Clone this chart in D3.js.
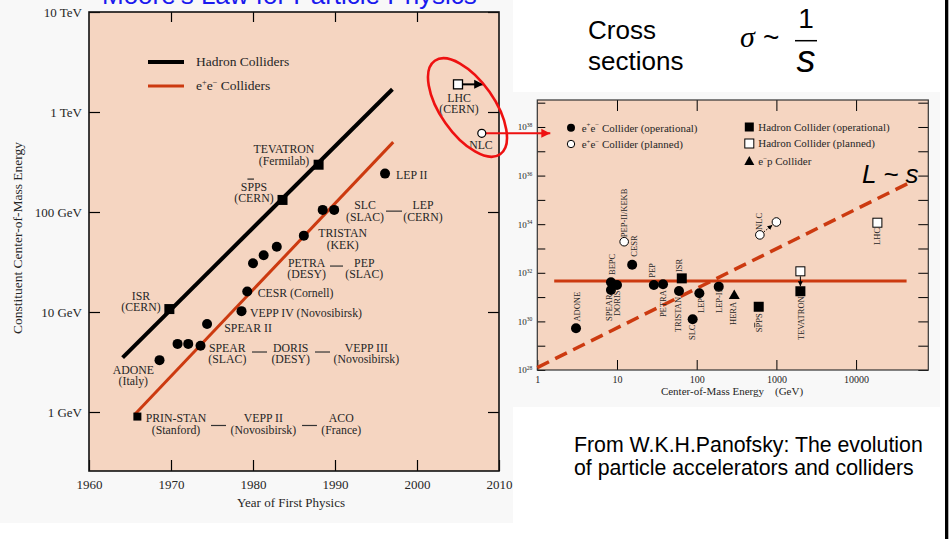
<!DOCTYPE html>
<html><head><meta charset="utf-8">
<script src="https://cdn.jsdelivr.net/npm/d3@7"></script>
<style>body{margin:0;background:#fff}svg{display:block}</style>
</head><body>
<svg id="c" width="952" height="539"></svg>
<script>
// ================= DATA : left panel (Livingston plot) =================
const leftYearTicks = [1960, 1970, 1980, 1990, 2000, 2010];
const leftEnergyTicks = [1, 10, 100, 1000, 10000];           // GeV
const leftEnergyTickLabels = ["1 GeV", "10 GeV", "100 GeV", "1 TeV", "10 TeV"];

// e+e- colliders (operational) – filled circles
const eeYears  = [1968.6, 1970.8, 1972.1, 1973.6, 1974.4, 1978.6, 1979.3, 1980.0, 1981.3, 1982.9, 1986.2, 1988.5, 1989.9, 1996.1];
const eeEnergy = [3.3, 4.8, 4.8, 4.6, 7.6, 10.2, 16, 30.7, 37, 45, 58, 105, 105, 242];
// earliest e+e- (PRIN-STAN) – small filled square
const eeFirstYears  = [1965.9];
const eeFirstEnergy = [0.9];
// hadron colliders (operational) – filled squares: ISR, SppS, TEVATRON
const hadYears  = [1969.8, 1983.6, 1988.0];
const hadEnergy = [10.7, 132, 297];
// planned: LHC (open square), NLC (open circle)
const lhcYear = 2005.0, lhcEnergy = 1890, lhcArrowToYear = 2008.07;
const nlcYear = 2007.9, nlcEnergy = 612;
// trend lines
const hadFitYears = [1964.1, 1997.0], hadFitEnergy = [3.5, 1690];
const eeFitYears  = [1965.6, 1997.1], eeFitEnergy  = [0.95, 500];

// annotations (anchored in data space)
const leftLabelText = [
  ["TEVATRON","(Fermilab)"], ["SPPS","(CERN)"], ["LEP II"], ["SLC","(SLAC)"], ["LEP","(CERN)"],
  ["TRISTAN","(KEK)"], ["PETRA","(DESY)"], ["PEP","(SLAC)"], ["CESR (Cornell)"], ["ISR","(CERN)"],
  ["VEPP IV (Novosibirsk)"], ["SPEAR II"], ["SPEAR","(SLAC)"], ["DORIS","(DESY)"], ["VEPP III","(Novosibirsk)"],
  ["ADONE","(Italy)"], ["PRIN-STAN","(Stanford)"], ["VEPP II","(Novosibirsk)"], ["ACO","(France)"],
  ["LHC","(CERN)"], ["NLC"]
];
const leftLabelYear = [1983.78, 1980.12, 1997.44, 1993.66, 2000.73, 1990.94, 1986.55, 1993.57, 1980.57, 1966.34,
  1979.63, 1976.5, 1976.87, 1984.6, 1993.82, 1965.4, 1970.61, 1981.26, 1990.77, 2005.12, 2007.8];
const leftLabelEnergy = [389, 164, 214, 107, 107, 55.6, 28.4, 28.4, 14.2, 13.2,
  8.98, 6.38, 4.01, 4.01, 4.01, 2.40, 0.789, 0.789, 0.789, 1268, 427];
const leftLabelAnchor = ["middle","middle","start","middle","middle","middle","middle","middle","start","middle",
  "start","start","middle","middle","middle","middle","middle","middle","middle","middle","middle"];
// connecting dashes between grouped labels
const dashFromYear = [1996.22, 1989.39, 1979.88, 1987.56, 1974.88, 1985.98];
const dashToYear   = [1998.17, 1990.98, 1981.71, 1989.39, 1976.71, 1987.80];
const dashEnergy   = [102, 28.8, 3.98, 3.98, 0.733, 0.733];

const leftLegendText = ["Hadron Colliders", "e+e- Colliders"];

// ================= DATA : right panel (luminosity) =================
const rightEnergyTicks = [1, 10, 100, 1000, 10000];
const rightLumTicks = [1e28,1e29,1e30,1e31,1e32,1e33,1e34,1e35,1e36,1e37,1e38,1e39];

const eeOpE = [3.06, 8.4, 8.4, 10, 15.5, 29, 37.8, 60, 89, 108, 189];
const eeOpL = [5.25e29, 1.95e31, 4.07e31, 3.16e31, 2.14e32, 3.16e31, 3.39e31, 1.78e31, 1.23e30, 1.45e31, 2.69e31];
const eePlE = [12.3, 620, 1000];
const eePlL = [1.9e33, 3.63e33, 1.23e34];
const hadOpE = [65, 600, 2000];
const hadOpL = [5.9e31, 4.0e30, 1.74e31];
const hadPlE = [2000, 18500];
const hadPlL = [1.15e32, 1.15e34];
const epE = [296];
const epL = [1.15e31];
const flatLineE = [1.63, 43000], flatLineL = [4.6e31, 4.6e31];
const lsLineE = [1, 45000], lsLineL = [1.26e28, 4.8e35];

const rightLabelText = ["ADONE","BEPC","SPEAR","DORIS","PEP-II/KEKB","CESR","PEP","PETRA","TRISTAN","ISR",
  "SLC","LEP","LEP-II","HERA","SPPS","NLC","TEVATRON","LHC"];
const rightLabelE = [3.12, 8.6, 7.94, 10.0, 12.2, 16.3, 27.2, 37.4, 58.8, 60.5, 88, 112, 189, 288, 610, 605, 2035, 18450];
const rightLabelL = [9.8e29, 8.1e31, 1.05e30, 1.66e30, 2.9e33, 4.6e32, 6.2e31, 1.5e30, 3.6e29, 1.07e32,
  1.7e29, 2.2e30, 2.2e30, 7.1e29, 3.6e29, 5.8e33, 1.7e29, 1.4e33];

const rightLegendText = ["e+e- Collider (operational)", "e+e- Collider (planned)",
  "Hadron Collider (operational)", "Hadron Collider (planned)", "e-p Collider"];
const rightLegendSymbol = ["circle", "circleOpen", "square", "squareOpen", "triangle"];

// ================= STYLE =================
const SERIF = "'Liberation Serif','Times New Roman',serif";
const SANS = "'Liberation Sans',Arial,Helvetica,sans-serif";
const PEACH = "#f5d5c1";
const ORANGE = "#cc3a10";
const RED = "#ee1111";
const TXT = "#262626";

const svg = d3.select("#c");

// rich text helper: e+e-, e-p, SPPS (overlined P)
function parts(str) {
  if (str.startsWith("e+e-")) return [["e"],["+","sup"],["e"],["\u2212","sup"],[str.slice(4)]];
  if (str.startsWith("e-p")) return [["e"],["\u2212","sup"],[str.slice(2)]];
  if (str === "SPPS") return [["S"],["P","bar"],["PS"]];
  return [[str]];
}
function rich(sel, ps, fs) {
  let up = false;
  ps.forEach(([t, m]) => {
    const ts = sel.append("tspan").text(t);
    if (m === "sup") {
      ts.attr("font-size", fs * 0.62);
      if (!up) { ts.attr("dy", -fs * 0.38); up = true; }
    } else {
      if (up) { ts.attr("dy", fs * 0.38); up = false; }
      if (m === "bar") ts.style("text-decoration", "overline");
    }
  });
}

// ---------- page backgrounds ----------
svg.append("rect").attr("x",0).attr("y",0).attr("width",513).attr("height",523).attr("fill","#f8f8f8");
svg.append("rect").attr("x",503).attr("y",92).attr("width",437).attr("height",315).attr("fill","#f8f8f8");

// blue page title (cut off at top)
svg.append("text").attr("x",102).attr("y",4).attr("font-family",SANS).attr("font-size",26)
  .attr("fill","#1a1aee").text("Moore's Law for Particle Physics");

// ================= LEFT PANEL =================
const LP = {x0: 89, x1: 499, y0: 12, y1: 471};
const xL = d3.scaleLinear().domain([1960, 2010]).range([LP.x0, LP.x1]);
const yL = d3.scaleLog().domain([Math.pow(10, -0.59), 1e4]).range([LP.y1, LP.y0]);

svg.append("rect").attr("x",LP.x0).attr("y",LP.y0).attr("width",LP.x1-LP.x0).attr("height",LP.y1-LP.y0)
  .attr("fill",PEACH);

const gL = svg.append("g");
function styleAxis(g, fs) {
  g.select(".domain").remove();
  g.selectAll(".tick line").attr("stroke","#000").attr("stroke-width",1.2);
  g.selectAll("text").attr("font-family",SERIF).attr("font-size",fs).attr("fill",TXT);
}
gL.append("g").attr("transform",`translate(${LP.x0},0)`)
  .call(d3.axisLeft(yL).tickValues(leftEnergyTicks).tickFormat((d,i)=>leftEnergyTickLabels[i]).tickSize(-11).tickPadding(7))
  .call(g=>styleAxis(g,13));
gL.append("g").attr("transform",`translate(${LP.x1},0)`)
  .call(d3.axisRight(yL).tickValues(leftEnergyTicks).tickFormat("").tickSize(-11)).call(g=>styleAxis(g,13));
gL.append("g").attr("transform",`translate(0,${LP.y0})`)
  .call(d3.axisTop(xL).tickValues(leftYearTicks.slice(1,-1)).tickFormat("").tickSize(-10)).call(g=>styleAxis(g,13));
gL.append("g").attr("transform",`translate(0,${LP.y1})`)
  .call(d3.axisBottom(xL).tickValues(leftYearTicks).tickFormat(d3.format("d")).tickSize(-11).tickPadding(9))
  .call(g=>styleAxis(g,13));

svg.append("rect").attr("x",LP.x0).attr("y",LP.y0).attr("width",LP.x1-LP.x0).attr("height",LP.y1-LP.y0)
  .attr("fill","none").attr("stroke","#111").attr("stroke-width",1.6);

// axis titles
svg.append("text").attr("transform",`translate(22,238) rotate(-90)`).attr("text-anchor","middle")
  .attr("font-family",SERIF).attr("font-size",13.5).attr("fill",TXT).text("Constituent Center-of-Mass Energy");
svg.append("text").attr("x",(LP.x0+LP.x1)/2 - 3).attr("y",507).attr("text-anchor","middle")
  .attr("font-family",SERIF).attr("font-size",13).attr("fill",TXT).text("Year of First Physics");

// trend lines
const lineL = d3.line().x(d=>xL(d[0])).y(d=>yL(d[1]));
svg.append("path").attr("d",lineL(d3.zip(hadFitYears,hadFitEnergy))).attr("stroke","#000").attr("stroke-width",4).attr("fill","none");
svg.append("path").attr("d",lineL(d3.zip(eeFitYears,eeFitEnergy))).attr("stroke",ORANGE).attr("stroke-width",3).attr("fill","none");

// legend (left)
const legL = svg.append("g");
[["#000",4],[ORANGE,3]].forEach((s,i)=>{
  legL.append("line").attr("x1",148).attr("x2",184).attr("y1",62+24*i).attr("y2",62+24*i)
    .attr("stroke",s[0]).attr("stroke-width",s[1]);
  const t = legL.append("text").attr("x",196).attr("y",66+24*i).attr("font-family",SERIF).attr("font-size",13.5).attr("fill",TXT);
  rich(t, parts(leftLegendText[i]), 13.5);
});

// markers
svg.append("g").selectAll("circle").data(d3.zip(eeYears,eeEnergy)).join("circle")
  .attr("cx",d=>xL(d[0])).attr("cy",d=>yL(d[1])).attr("r",5).attr("fill","#000");
svg.append("g").selectAll("rect").data(d3.zip(eeFirstYears,eeFirstEnergy)).join("rect")
  .attr("x",d=>xL(d[0])-4).attr("y",d=>yL(d[1])-4).attr("width",8).attr("height",8).attr("fill","#000");
svg.append("g").selectAll("rect").data(d3.zip(hadYears,hadEnergy)).join("rect")
  .attr("x",d=>xL(d[0])-5).attr("y",d=>yL(d[1])-5).attr("width",10).attr("height",10).attr("fill","#000");

const defs = svg.append("defs");
defs.append("marker").attr("id","ahBlack").attr("viewBox","0 0 10 10").attr("refX",10).attr("refY",5)
  .attr("markerWidth",9).attr("markerHeight",10).attr("markerUnits","userSpaceOnUse").attr("orient","auto")
  .append("path").attr("d","M0,0 L10,5 L0,10 Z").attr("fill","#000");
defs.append("marker").attr("id","ahRed").attr("viewBox","0 0 10 10").attr("refX",10).attr("refY",5)
  .attr("markerWidth",9).attr("markerHeight",11).attr("markerUnits","userSpaceOnUse").attr("orient","auto")
  .append("path").attr("d","M0,0 L10,5 L0,10 Z").attr("fill",RED);
defs.append("marker").attr("id","ahSmall").attr("viewBox","0 0 10 10").attr("refX",10).attr("refY",5)
  .attr("markerWidth",5).attr("markerHeight",5).attr("markerUnits","userSpaceOnUse").attr("orient","auto")
  .append("path").attr("d","M0,0 L10,5 L0,10 Z").attr("fill","#000");

// LHC open square + arrow
svg.append("line").attr("x1",xL(lhcYear)+5).attr("x2",xL(lhcArrowToYear)).attr("y1",yL(lhcEnergy)).attr("y2",yL(lhcEnergy))
  .attr("stroke","#000").attr("stroke-width",2).attr("marker-end","url(#ahBlack)");
svg.append("rect").attr("x",xL(lhcYear)-4.5).attr("y",yL(lhcEnergy)-4.5).attr("width",9).attr("height",9)
  .attr("fill","#fff").attr("stroke","#000").attr("stroke-width",1.3);

// labels
const LFS = 11.8, LSP = 11.5;
const labG = svg.append("g").attr("font-family",SERIF).attr("font-size",LFS).attr("fill",TXT);
leftLabelText.forEach((lines,i)=>{
  lines.forEach((ln,j)=>{
    const t = labG.append("text").attr("x",xL(leftLabelYear[i])).attr("y",yL(leftLabelEnergy[i])+j*LSP)
      .attr("text-anchor",leftLabelAnchor[i]);
    rich(t, parts(ln), LFS);
  });
});
svg.append("g").selectAll("line").data(d3.range(dashFromYear.length)).join("line")
  .attr("x1",i=>xL(dashFromYear[i])).attr("x2",i=>xL(dashToYear[i]))
  .attr("y1",i=>yL(dashEnergy[i])).attr("y2",i=>yL(dashEnergy[i]))
  .attr("stroke","#333").attr("stroke-width",1.2);

// ================= RIGHT PANEL =================
const RP = {x0: 537.3, x1: 928.3, y0: 100, y1: 370};
const xR = d3.scaleLog().domain([1, Math.pow(10, 4.906)]).range([RP.x0, RP.x1]);
const yR = d3.scaleLog().domain([1e28, Math.pow(10, 39.11)]).range([RP.y1, RP.y0]);

svg.append("rect").attr("x",RP.x0).attr("y",RP.y0).attr("width",RP.x1-RP.x0).attr("height",RP.y1-RP.y0).attr("fill",PEACH);

const gR = svg.append("g");
gR.append("g").attr("transform",`translate(${RP.x0},0)`)
  .call(d3.axisLeft(yR).tickValues(rightLumTicks).tickFormat(()=> "").tickSize(-8).tickPadding(5))
  .call(g=>styleAxis(g,9))
  .call(g=>g.selectAll(".tick text").each(function(d){
    const e = Math.round(Math.log10(d));
    if (e % 2 === 0) rich(d3.select(this), [["10"],[String(e),"sup"]], 9);
  }));
gR.append("g").attr("transform",`translate(${RP.x1},0)`)
  .call(d3.axisRight(yR).tickValues(rightLumTicks).tickFormat("").tickSize(-10)).call(g=>styleAxis(g,9));
gR.append("g").attr("transform",`translate(0,${RP.y0})`)
  .call(d3.axisTop(xR).tickValues(rightEnergyTicks.slice(1)).tickFormat("").tickSize(-11)).call(g=>styleAxis(g,10));
gR.append("g").attr("transform",`translate(0,${RP.y1})`)
  .call(d3.axisBottom(xR).tickValues(rightEnergyTicks).tickFormat(d3.format("d")).tickSize(-10).tickPadding(6))
  .call(g=>styleAxis(g,10));
gR.selectAll(".tick line").attr("stroke-width",1);

svg.append("rect").attr("x",RP.x0).attr("y",RP.y0).attr("width",RP.x1-RP.x0).attr("height",RP.y1-RP.y0)
  .attr("fill","none").attr("stroke","#333").attr("stroke-width",1.2);

svg.append("text").attr("x",732).attr("y",395).attr("text-anchor","middle").style("white-space","pre")
  .attr("font-family",SERIF).attr("font-size",11).attr("fill",TXT).text("Center-of-Mass Energy    (GeV)");

// lines
const lineR = d3.line().x(d=>xR(d[0])).y(d=>yR(d[1]));
svg.append("path").attr("d",lineR(d3.zip(flatLineE,flatLineL))).attr("stroke",ORANGE).attr("stroke-width",3).attr("fill","none");
svg.append("path").attr("d",lineR(d3.zip(lsLineE,lsLineL))).attr("stroke",ORANGE).attr("stroke-width",3.5)
  .attr("stroke-dasharray","13,7").attr("fill","none");

svg.append("text").attr("x",862).attr("y",183).attr("font-family",SANS).attr("font-style","italic")
  .attr("font-size",26).attr("fill","#000").text("L ~ s");

// small connecting arrows (planned upgrades)
svg.append("line").attr("x1",xR(eePlE[1])+4).attr("y1",yR(eePlL[1])-3).attr("x2",xR(eePlE[2])-4).attr("y2",yR(eePlL[2])+3)
  .attr("stroke","#000").attr("stroke-width",1).attr("stroke-dasharray","1.5,1.5").attr("marker-end","url(#ahSmall)");
svg.append("line").attr("x1",xR(hadPlE[0])).attr("y1",yR(hadPlL[0])+5).attr("x2",xR(hadOpE[2])).attr("y2",yR(hadOpL[2])-5)
  .attr("stroke","#000").attr("stroke-width",1).attr("marker-end","url(#ahSmall)");

// markers
svg.append("g").selectAll("circle").data(d3.zip(eeOpE,eeOpL)).join("circle")
  .attr("cx",d=>xR(d[0])).attr("cy",d=>yR(d[1])).attr("r",5).attr("fill","#000");
svg.append("g").selectAll("circle").data(d3.zip(eePlE,eePlL)).join("circle")
  .attr("cx",d=>xR(d[0])).attr("cy",d=>yR(d[1])).attr("r",4.3).attr("fill","#fff").attr("stroke","#000").attr("stroke-width",1);
svg.append("g").selectAll("rect").data(d3.zip(hadOpE,hadOpL)).join("rect")
  .attr("x",d=>xR(d[0])-5).attr("y",d=>yR(d[1])-5).attr("width",10).attr("height",10).attr("fill","#000");
svg.append("g").selectAll("rect").data(d3.zip(hadPlE,hadPlL)).join("rect")
  .attr("x",d=>xR(d[0])-4.5).attr("y",d=>yR(d[1])-4.5).attr("width",9).attr("height",9)
  .attr("fill","#fff").attr("stroke","#000").attr("stroke-width",1);
svg.append("g").selectAll("path").data(d3.zip(epE,epL)).join("path")
  .attr("d",d=>`M${xR(d[0])},${yR(d[1])-6} l5.5,9.5 l-11,0 Z`).attr("fill","#000");

// rotated labels
const rl = svg.append("g").attr("font-family",SERIF).attr("font-size",8.5).attr("fill",TXT);
rightLabelText.forEach((s,i)=>{
  const t = rl.append("text").attr("transform",`translate(${xR(rightLabelE[i])},${yR(rightLabelL[i])}) rotate(-90)`)
    .attr("dy","0.35em");
  rich(t, parts(s), 8.5);
});

// legend (right)
const legR = svg.append("g");
const legPos = [[571,127.7],[571,144],[749.3,127],[749.3,143.5],[749.3,161.5]];
rightLegendText.forEach((s,i)=>{
  const [x,y] = legPos[i], sym = rightLegendSymbol[i];
  if (sym === "circle") legR.append("circle").attr("cx",x).attr("cy",y).attr("r",4).attr("fill","#000");
  if (sym === "circleOpen") legR.append("circle").attr("cx",x).attr("cy",y).attr("r",3.7).attr("fill","#fff").attr("stroke","#000");
  if (sym === "square") legR.append("rect").attr("x",x-4.5).attr("y",y-4.5).attr("width",9).attr("height",9).attr("fill","#000");
  if (sym === "squareOpen") legR.append("rect").attr("x",x-4.5).attr("y",y-4.5).attr("width",9).attr("height",9).attr("fill","#fff").attr("stroke","#000");
  if (sym === "triangle") legR.append("path").attr("d",`M${x},${y-5.5} l5,9 l-10,0 Z`).attr("fill","#000");
  const t = legR.append("text").attr("x",x+(i<2?10.7:9)).attr("y",y+3.8).attr("font-family",SERIF).attr("font-size",11).attr("fill",TXT);
  rich(t, parts(s), 11);
});

// ================= SLIDE ANNOTATIONS =================
const ann = svg.append("g").attr("font-family",SANS).attr("fill","#000");
ann.append("text").attr("x",588).attr("y",39).attr("font-size",26).text("Cross");
ann.append("text").attr("x",588).attr("y",70).attr("font-size",26).text("sections");
ann.append("text").attr("x",740).attr("y",47).attr("font-family",SERIF).attr("font-style","italic").attr("font-size",30).text("\u03c3");
ann.append("text").attr("x",763).attr("y",47).attr("font-size",28).text("~");
ann.append("text").attr("x",806).attr("y",28).attr("text-anchor","middle").attr("font-size",28).text("1");
ann.append("line").attr("x1",795).attr("x2",817).attr("y1",40.7).attr("y2",40.7).attr("stroke","#000").attr("stroke-width",1.5);
ann.append("text").attr("x",806).attr("y",72).attr("text-anchor","middle").attr("font-style","italic").attr("font-size",38).text("s");

ann.append("text").attr("x",574).attr("y",452).attr("font-size",21.3).text("From W.K.H.Panofsky: The evolution");
ann.append("text").attr("x",574).attr("y",475).attr("font-size",21.3).text("of particle accelerators and colliders");

// red highlight ellipse and connector from NLC to right panel
svg.append("ellipse").attr("cx",467.5).attr("cy",107.5).attr("rx",57).attr("ry",27)
  .attr("transform","rotate(55,467.5,107.5)").attr("fill","none").attr("stroke",RED).attr("stroke-width",2.6);
svg.append("line").attr("x1",xL(nlcYear)+4).attr("x2",RP.x0+13).attr("y1",yL(nlcEnergy)).attr("y2",yL(nlcEnergy))
  .attr("stroke",RED).attr("stroke-width",2).attr("marker-end","url(#ahRed)");
svg.append("circle").attr("cx",xL(nlcYear)).attr("cy",yL(nlcEnergy)).attr("r",4)
  .attr("fill","#fff").attr("stroke","#000").attr("stroke-width",1.2);

// right-hand black slide edge
svg.append("rect").attr("x",945).attr("y",0).attr("width",3.3).attr("height",539).attr("fill","#000");
</script>
</body></html>
